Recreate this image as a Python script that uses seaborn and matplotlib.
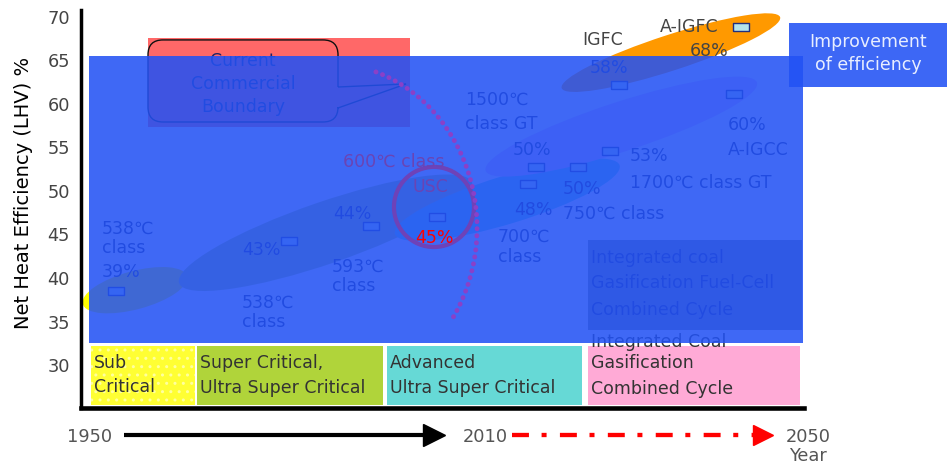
import numpy as np
import pandas as pd
import matplotlib
matplotlib.use("Agg")
import matplotlib.pyplot as plt
import seaborn as sns
from matplotlib.patches import Rectangle, Ellipse, Circle, PathPatch
from matplotlib.path import Path

# -------------------------------------------------------
# Data: marker positions (timeline position, efficiency %) and labels
# -------------------------------------------------------
marker_pos = [4.0, 23.9, 33.3, 40.9, 51.4, 52.3, 57.1, 60.8, 61.8, 75.1, 75.9]
marker_eff = [38.45, 44.2, 46.0, 47.0, 50.8, 52.7, 52.7, 54.6, 62.2, 61.2, 68.8]
marker_tech = ["SC", "USC", "USC", "USC", "A-USC", "IGCC", "A-USC", "IGCC", "IGFC", "A-IGCC", "A-IGFC"]

ytick_values = [30, 35, 40, 45, 50, 55, 60, 65, 70]

# technology bands under the blue overlay: name, centre x, centre y, length, width, angle, colour
band_names = ["Sub Critical", "Super Critical", "Advanced USC", "IGCC", "IGFC"]
band_x = [6.2, 28.1, 49.0, 62.1, 67.8]
band_y = [38.6, 45.2, 49.0, 57.4, 65.9]
band_len = [12.4, 35.6, 27.0, 32.8, 26.4]
band_wid = [4.4, 7.1, 5.5, 5.7, 4.1]
band_ang = [15, 19, 17, 18, 18]
band_col = ["#ffff00", "#b8c97a", "#66e0e0", "#f2c0ff", "#ff9900"]

# era boxes along the bottom
era_lines = [["Sub", "Critical"], ["Super Critical,", "Ultra Super Critical"],
             ["Advanced", "Ultra Super Critical"],
             ["Integrated Coal", "Gasification", "Combined Cycle"]]
era_line_y = [[30.23, 27.5], [30.23, 27.36], [30.23, 27.36], [32.64, 30.23, 27.24]]
era_start = [1.15, 13.33, 35.17, 58.28]
era_end = [13.1, 34.71, 57.59, 82.64]
era_col = ["#ffff33", "#b0d43a", "#66d9d6", "#ffaad6"]

year_labels = ["1950", "2010", "2050"]

plot_data = pd.DataFrame({"pos": marker_pos, "eff": marker_eff, "tech": marker_tech})

# -------------------------------------------------------
# Figure setup
# -------------------------------------------------------
sns.set_theme(style="white")
plt.rcParams["font.family"] = ["DejaVu Sans", "Noto Sans CJK JP"]
plt.rcParams["lines.scale_dashes"] = False

fig = plt.figure(figsize=(9.47, 4.66), dpi=100)
ax = fig.add_axes([81 / 947, 58 / 466, 723 / 947, 398 / 466])
ax.set_xlim(0, 83.1)
ax.set_ylim(25.06, 70.8)

under = "#1e2466"
fs = 12.5

# red "current commercial" block
ax.add_patch(Rectangle((7.7, 57.36), 30.12, 10.23, color="#ff6868", zorder=1, lw=0))

# technology bands
for i in range(len(band_names)):
    ax.add_patch(Ellipse((band_x[i], band_y[i]), band_len[i], band_wid[i], angle=band_ang[i],
                         color=band_col[i], zorder=2, lw=0))

# grey IGFC box
ax.add_patch(Rectangle((58.28, 34.02), 24.6, 10.35, color="#8a8a8a", zorder=2, lw=0))

# era boxes
for i in range(len(era_lines)):
    ax.add_patch(Rectangle((era_start[i], 25.45), era_end[i] - era_start[i], 6.73,
                           color=era_col[i], zorder=2, lw=0))
    for line, y in zip(era_lines[i], era_line_y[i]):
        ax.text(era_start[i] + 0.3, y, line, fontsize=fs, color="#333333",
                va="center", ha="left", zorder=3)
# dotted texture on the sub critical box
ax.add_patch(Rectangle((1.15, 25.45), 11.95, 6.73, facecolor="none", edgecolor="#ffffa0",
                       hatch="..", lw=0, zorder=2.5))

# markers
sns.scatterplot(data=plot_data, x="pos", y="eff", ax=ax,
                marker=[(-1, -0.5), (1, -0.5), (1, 0.5), (-1, 0.5), (-1, -0.5)],
                s=135, color="#b4e4ea", edgecolor="#1f2f80", linewidth=1, zorder=3, legend=False)

# labels under the overlay
labels = [
    (2.41, 45.63, "538℃"), (2.41, 43.45, "class"), (2.41, 40.69, "39%"),
    (18.5, 43.22, "43%"), (18.5, 37.13, "538℃"), (18.5, 34.94, "class"),
    (28.85, 41.26, "593℃"), (28.85, 39.08, "class"), (28.97, 47.36, "44%"),
    (44.14, 60.46, "1500℃"), (44.14, 57.7, "class GT"),
    (49.66, 54.71, "50%"), (49.77, 47.82, "48%"),
    (47.93, 44.71, "700℃"), (47.93, 42.41, "class"),
    (55.4, 50.23, "50%"), (55.4, 47.36, "750℃ class"),
    (63.1, 54.02, "53%"), (63.1, 50.92, "1700℃ class GT"),
    (74.37, 57.59, "60%"), (74.37, 54.71, "A-IGCC"),
    (58.5, 64.14, "58%"), (70.0, 66.09, "68%"),
]
for x, y, t in labels:
    ax.text(x, y, t, fontsize=fs, color=under if y < 65.5 else "#444444",
            ha="left", va="center", zorder=3)

ax.text(57.59, 67.36, "IGFC", fontsize=fs, color="#444444", ha="left", va="center", zorder=3)
ax.text(66.55, 68.85, "A-IGFC", fontsize=fs, color="#444444", ha="left", va="center", zorder=3)

ax.text(58.62, 42.3, "Integrated coal", fontsize=fs, color=under, va="center", zorder=3)
ax.text(58.62, 39.43, "Gasification Fuel-Cell", fontsize=fs, color=under, va="center", zorder=3)
ax.text(58.62, 36.32, "Combined Cycle", fontsize=fs, color=under, va="center", zorder=3)

# callout bubble
L, R, T, B, r = 7.70, 29.54, 67.36, 57.93, 1.72
verts = [(R, 61.95), (R, T - r), (R, T), (R - r, T), (L + r, T), (L, T), (L, T - r),
         (L, B + r), (L, B), (L + r, B), (R - r, B), (R, B), (R, B + r),
         (R, 59.54), (37.36, 62.30), (R, 61.95)]
codes = [Path.MOVETO, Path.LINETO, Path.CURVE3, Path.CURVE3, Path.LINETO, Path.CURVE3, Path.CURVE3,
         Path.LINETO, Path.CURVE3, Path.CURVE3, Path.LINETO, Path.CURVE3, Path.CURVE3,
         Path.LINETO, Path.LINETO, Path.LINETO]
ax.add_patch(PathPatch(Path(verts, codes), facecolor="none", edgecolor="#111111", lw=1, zorder=3))
ax.text(18.62, 62.3, "Current\nCommercial\nBoundary", fontsize=fs, color=under,
        ha="center", va="center", linespacing=1.38, zorder=3)

# -------------------------------------------------------
# Blue overlay
# -------------------------------------------------------
blue = "#2252f4"
ax.add_patch(Rectangle((0.92, 32.53), 82.07, 32.99, color=blue, alpha=0.87, lw=0, zorder=5))
ax.add_patch(Rectangle((81.4, 61.95), 18.2, 7.36, color=blue, alpha=0.88, lw=0, zorder=5,
                       clip_on=False))
ax.text(90.46, 67.13, "Improvement", fontsize=fs, color="#e8eeff", ha="center", va="center",
        zorder=6, clip_on=False)
ax.text(90.46, 64.48, "of efficiency", fontsize=fs, color="#e8eeff", ha="center", va="center",
        zorder=6, clip_on=False)

# USC circle and commercial boundary arc
ax.add_patch(Circle((40.57, 48.16), 4.6, facecolor="none", edgecolor="#6e42b8", lw=3, zorder=6))
theta = np.radians(np.linspace(71, -33, 120))
ax.plot(28.28 + 17.24 * np.cos(theta), 45.75 + 18.97 * np.sin(theta), color="#8a40c8",
        lw=3.5, dashes=[0.1, 5.0], dash_capstyle="round", zorder=6)
ax.text(30.1, 53.33, "600℃ class", fontsize=fs, color="#6a44b4", ha="left", va="center", zorder=6)
ax.text(38.05, 50.46, "USC", fontsize=fs, color="#6a44b4", ha="left", va="center", zorder=6)
ax.text(38.4, 44.6, "45%", fontsize=fs, color="red", ha="left", va="center", zorder=6)

# -------------------------------------------------------
# Timeline along the bottom
# -------------------------------------------------------
ax.plot([4.94, 40.5], [21.95, 21.95], color="black", lw=3, clip_on=False, solid_capstyle="butt")
ax.plot([40.57], [21.95], marker=">", ms=15.5, color="black", clip_on=False)
ax.plot([49.5, 77.5], [21.95, 21.95], color="red", lw=3.1, dashes=[12.2, 9.1, 3.6, 9.6],
        clip_on=False, solid_capstyle="butt", dash_capstyle="butt")
ax.plot([78.39], [21.95], marker=">", ms=14.8, color="red", clip_on=False)
for x, t in zip([1.03, 46.44, 83.56], year_labels):
    ax.text(x, 21.72, t, fontsize=12.8, color="#555555", ha="center", va="center", clip_on=False)
ax.text(83.56, 19.54, "Year", fontsize=12.8, color="#555555", ha="center", va="center",
        clip_on=False)

# -------------------------------------------------------
# Axes styling
# -------------------------------------------------------
ax.set_yticks(ytick_values)
ax.set_xticks([])
ax.tick_params(axis="y", length=0, pad=8, labelsize=12.8, labelcolor="#444444")
ax.set_xlabel("")
ax.set_ylabel("")
ax.text(-0.080, 0.54, "Net Heat Efficiency (LHV) %", transform=ax.transAxes, rotation=90,
        fontsize=14, color="black", ha="center", va="center")
for side in ["top", "right"]:
    ax.spines[side].set_visible(False)
ax.spines["left"].set_linewidth(2.5)
ax.spines["bottom"].set_linewidth(3.3)
ax.spines["left"].set_color("black")
ax.spines["bottom"].set_color("black")
ax.spines["left"].set_zorder(7)
ax.spines["bottom"].set_zorder(7)
ax.set_facecolor("white")

fig.savefig("out.png", dpi=100)
